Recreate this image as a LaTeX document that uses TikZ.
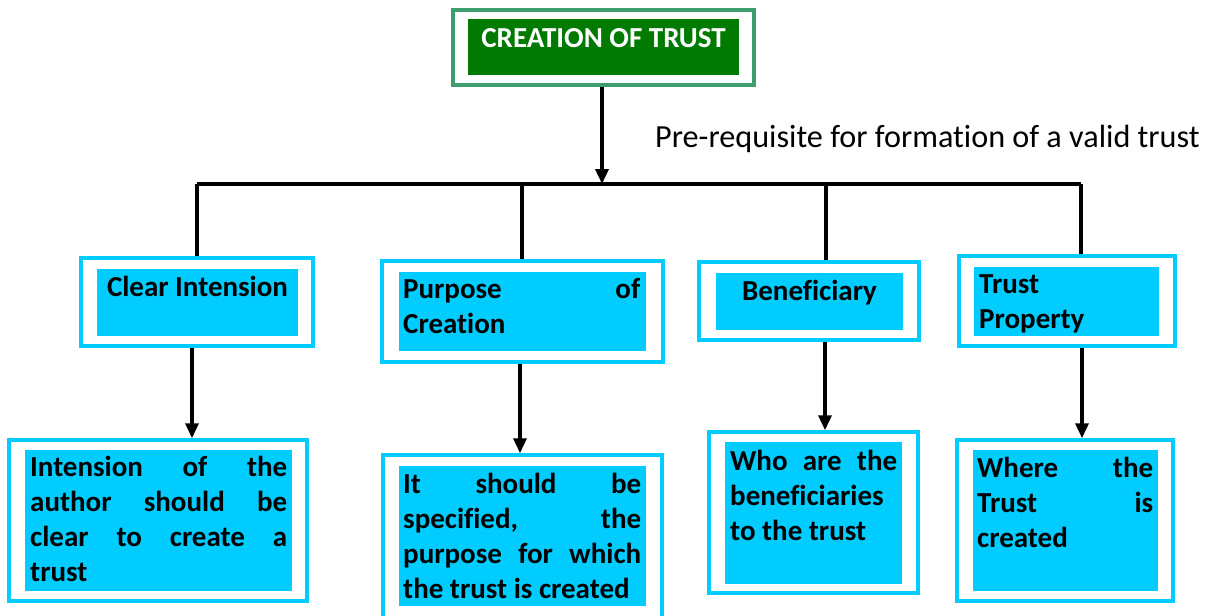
\documentclass[tikz,border=0pt]{standalone}
\usepackage{fontspec}
\setmainfont[Ligatures=NoCommon]{Carlito}
\usetikzlibrary{arrows.meta,positioning}
\definecolor{trustgreen}{RGB}{0,122,0}
\definecolor{framegreen}{RGB}{60,158,108}
\definecolor{boxcyan}{RGB}{0,204,255}
\tikzset{font=\bfseries\fontsize{29}{35}\selectfont}
\tikzset{every node/.append style={inner sep=0pt}}
\tikzset{outerbox/.style={draw=boxcyan, line width=3.5pt, fill=white}}
\tikzset{innerbox/.style={fill=boxcyan}}
\tikzset{boxtext/.style={anchor=base west, align=justify}}
\tikzset{link/.style={line width=3.5pt}}
\tikzset{arrowlink/.style={link, -{Triangle[width=13pt,length=15pt]}}}

\begin{document}
\begin{tikzpicture}[x=1pt,y=-1pt]
\useasboundingbox (0,0) rectangle (1211,616);
\clip (0,0) rectangle (1211,616);
% head
\node[draw=framegreen, line width=4pt, minimum width=301pt, minimum height=75pt] (creation) at (603.5,47.5) {};
\node[fill=trustgreen, minimum width=271pt, minimum height=56pt] (creation-in) at (603.5,47) {};
\node[anchor=base, text=white] (creation-txt) at (603.5,47) {CREATION OF TRUST};
\node[anchor=base west, font=\mdseries\fontsize{32.2}{38}\selectfont] (prereq) at (655,147) {Pre-requisite for formation of a valid trust};
% requirements
\node[outerbox, minimum width=232pt, minimum height=88pt] (intent) at (197,302) {};
\node[innerbox, minimum width=201pt, minimum height=67pt] (intent-in) at (197.5,302.5) {};
\node[anchor=base] at (197.5,296) {Clear Intension};
\node[outerbox, minimum width=281pt, minimum height=101pt] (purpose) at (522.5,311.5) {};
\node[innerbox, minimum width=247pt, minimum height=79pt] (purpose-in) at (522.5,311.5) {};
\node[boxtext, text width=237pt] at (403,298) {Purpose of \linebreak Creation};
\node[outerbox, minimum width=220pt, minimum height=78pt] (benef) at (809,301) {};
\node[innerbox, minimum width=187pt, minimum height=57pt] (benef-in) at (809.5,301.5) {};
\node[anchor=base] at (809.5,300) {Beneficiary};
\node[outerbox, minimum width=216pt, minimum height=90pt] (property) at (1067,301) {};
\node[innerbox, minimum width=185pt, minimum height=69pt] (property-in) at (1066.5,301.5) {};
\node[boxtext, align=left, text width=175pt] at (979,293) {Trust\\Property};
% explanations
\node[outerbox, minimum width=298pt, minimum height=161pt] (intent-note) at (158,520.5) {};
\node[innerbox, minimum width=267pt, minimum height=141pt] (intent-note-in) at (158.5,520.5) {};
\node[boxtext, text width=257pt] at (30,476) {Intension of the \linebreak author should be \linebreak clear to create a \linebreak trust};
\node[outerbox, minimum width=279pt, minimum height=164pt] (purpose-note) at (522.5,537) {};
\node[innerbox, minimum width=247pt, minimum height=140pt] (purpose-note-in) at (522.5,536) {};
\node[boxtext, text width=238pt] at (403,493) {It should be \linebreak specified, the \linebreak purpose for which \linebreak the trust is created};
\node[outerbox, minimum width=209pt, minimum height=161pt] (benef-note) at (813.5,512.5) {};
\node[innerbox, minimum width=177pt, minimum height=142pt] (benef-note-in) at (813.5,513) {};
\node[boxtext, text width=167pt] at (730,470) {Who are the \linebreak beneficiaries\\to the trust};
\node[outerbox, minimum width=216pt, minimum height=161pt] (property-note) at (1065,520.5) {};
\node[innerbox, minimum width=185pt, minimum height=141pt] (property-note-in) at (1065.5,520.5) {};
\node[boxtext, text width=176pt] at (977,477) {Where the \linebreak Trust is \linebreak created};
% connectors
\coordinate (bus) at (602,184);
\coordinate (bus-l) at (197,184);
\coordinate (bus-r) at (1081,184);
\draw[arrowlink] (creation.south -| bus) -- (bus);
\draw[link] (bus-l) -- (bus-r);
\foreach \n/\x in {intent/197, purpose/522, benef/826, property/1081} {
  \coordinate (drop) at (\x,184);
  \draw[link] (drop) -- (drop |- \n.north);
}
\foreach \n/\x in {intent/192, purpose/520, benef/825, property/1082} {
  \coordinate (down) at (\x,0);
  \draw[arrowlink] (down |- \n.south) -- (down |- \n-note.north);
}
\end{tikzpicture}
\end{document}
